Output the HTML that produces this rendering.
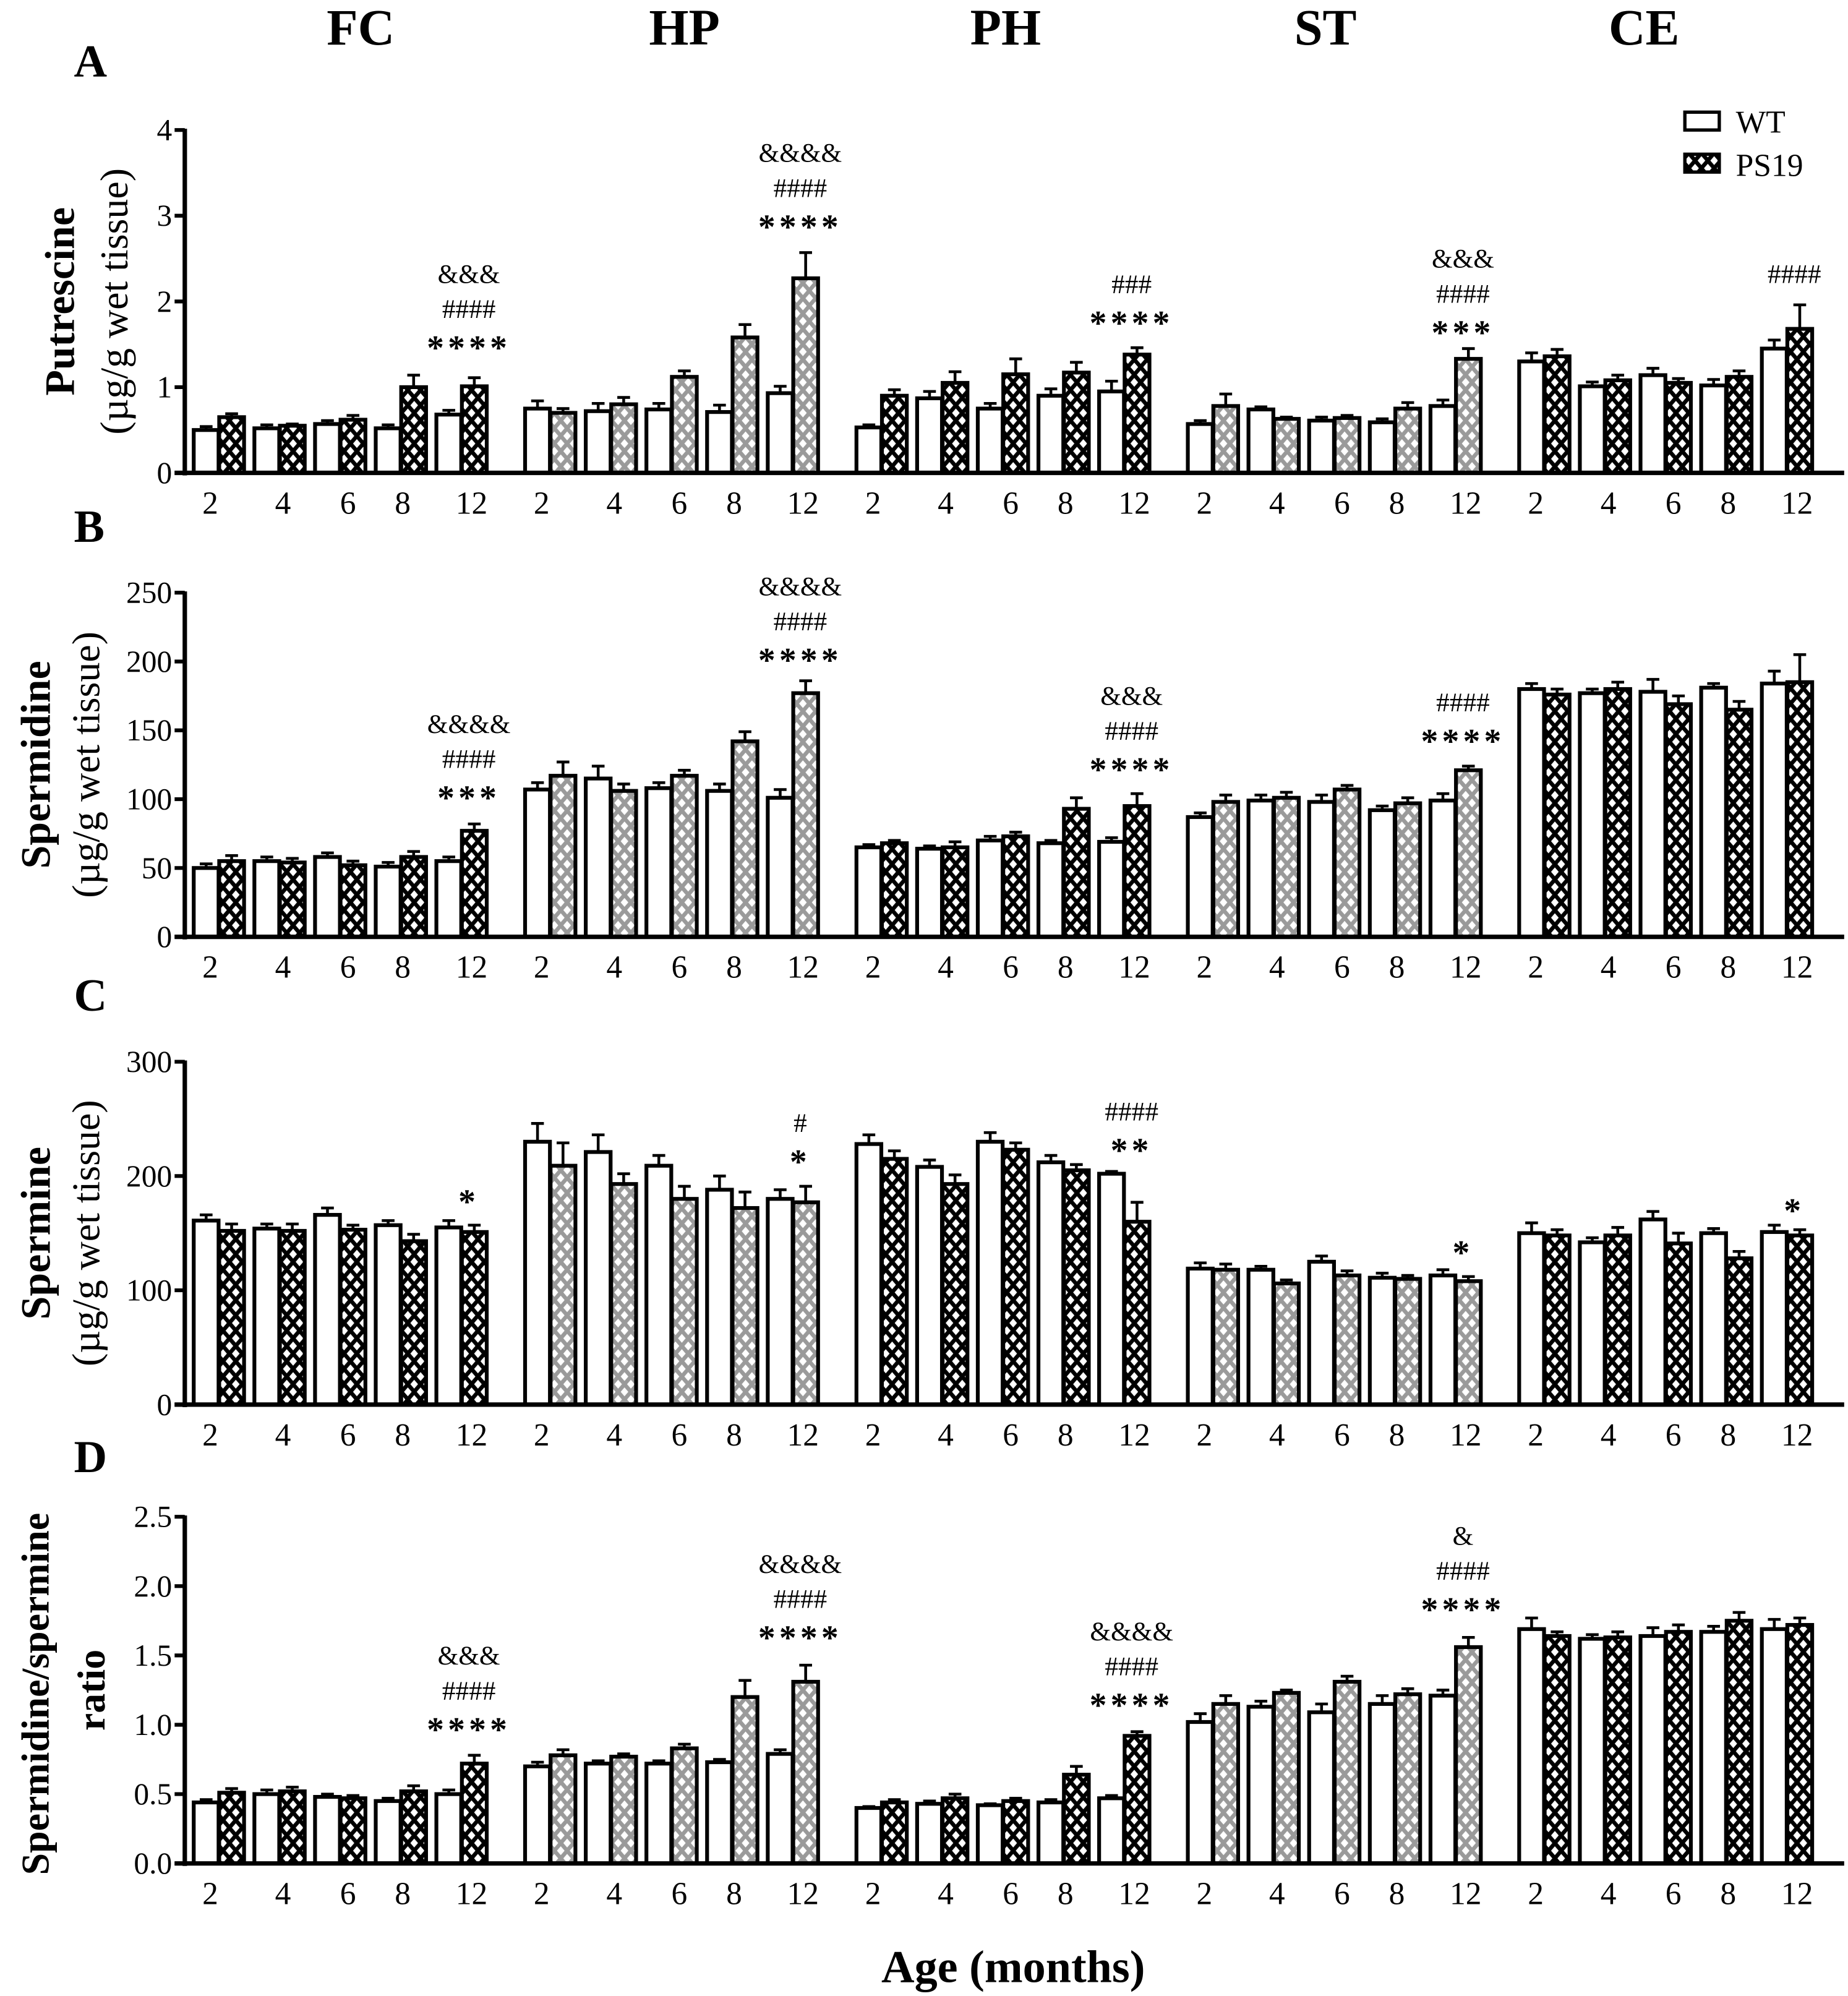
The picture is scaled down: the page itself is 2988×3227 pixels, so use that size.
<!DOCTYPE html>
<html><head><meta charset="utf-8"><style>
html,body{margin:0;padding:0;background:#fff}
svg{display:block}
text{font-family:"Liberation Serif",serif;fill:#000}
</style></head><body>
<svg id="fig" width="2988" height="3227" viewBox="0 0 1450 1566" preserveAspectRatio="none" xmlns="http://www.w3.org/2000/svg">
<defs>
<pattern id="pb" width="10" height="12" patternUnits="userSpaceOnUse"><rect width="10" height="12" fill="#000"/><path d="M5 2.5L8 6L5 9.5L2 6Z M0 -3.5L3 0L0 3.5L-3 0Z M10 -3.5L13 0L10 3.5L7 0Z M0 8.5L3 12L0 15.5L-3 12Z M10 8.5L13 12L10 15.5L7 12Z" fill="#fff"/></pattern>
<pattern id="pg" width="10" height="12" patternUnits="userSpaceOnUse"><rect width="10" height="12" fill="#9a9a9a"/><path d="M5 2.5L8 6L5 9.5L2 6Z M0 -3.5L3 0L0 3.5L-3 0Z M10 -3.5L13 0L10 3.5L7 0Z M0 8.5L3 12L0 15.5L-3 12Z M10 8.5L13 12L10 15.5L7 12Z" fill="#fff"/></pattern>
</defs>
<g id="root"></g>
</svg>
<script>
const regions = ["FC","HP","PH","ST","CE"];
const ages = ["2","4","6","8","12"];
// Panel A Putrescine
const putWT = [[0.5,0.52,0.57,0.52,0.68],[0.75,0.72,0.74,0.71,0.93],[0.53,0.87,0.75,0.90,0.95],[0.57,0.74,0.61,0.59,0.78],[1.30,1.01,1.14,1.02,1.45]];
const putWTerr = [[0.04,0.04,0.04,0.04,0.05],[0.09,0.09,0.07,0.08,0.08],[0.03,0.08,0.06,0.08,0.12],[0.04,0.03,0.04,0.04,0.07],[0.1,0.05,0.08,0.07,0.1]];
const putPS = [[0.65,0.55,0.62,1.0,1.01],[0.70,0.80,1.12,1.58,2.27],[0.90,1.05,1.15,1.17,1.38],[0.78,0.63,0.64,0.75,1.33],[1.36,1.08,1.05,1.12,1.68]];
const putPSerr = [[0.04,0.02,0.05,0.14,0.1],[0.05,0.08,0.07,0.15,0.3],[0.07,0.13,0.18,0.12,0.08],[0.14,0.02,0.03,0.07,0.12],[0.08,0.06,0.05,0.07,0.28]];
// Panel B Spermidine
const spdWT = [[50,55,58,51,55],[107,115,108,106,101],[65,64,70,68,69],[87,99,98,92,99],[180,177,178,181,184]];
const spdWTerr = [[3,3,3,3,3],[5,9,4,5,6],[2,2,3,2,3],[3,4,5,3,5],[4,3,9,3,9]];
const spdPS = [[55,54,52,58,77],[117,106,117,142,177],[68,65,73,93,95],[98,101,107,97,121],[176,180,169,165,185]];
const spdPSerr = [[4,3,3,4,5],[10,5,4,7,9],[2,4,3,8,9],[5,4,3,4,3],[4,5,6,6,20]];
// Panel C Spermine
const spmWT = [[161,154,166,157,155],[230,221,209,188,180],[228,208,230,212,202],[119,118,125,111,113],[150,142,162,150,151]];
const spmWTerr = [[5,4,6,4,6],[16,15,9,12,8],[8,6,8,6,2],[5,3,5,4,5],[9,4,7,4,6]];
const spmPS = [[152,152,153,143,151],[209,193,180,172,177],[215,193,223,205,160],[118,106,113,110,108],[148,148,141,128,148]];
const spmPSerr = [[6,6,4,6,6],[20,9,11,14,14],[7,8,6,5,17],[5,3,4,3,4],[5,7,9,6,5]];
// Panel D ratio
const ratWT = [[0.44,0.50,0.48,0.45,0.50],[0.70,0.72,0.72,0.73,0.79],[0.40,0.43,0.42,0.44,0.47],[1.02,1.13,1.09,1.15,1.21],[1.69,1.62,1.64,1.67,1.69]];
const ratWTerr = [[0.02,0.03,0.02,0.02,0.03],[0.03,0.02,0.02,0.02,0.03],[0.01,0.02,0.01,0.02,0.02],[0.06,0.04,0.06,0.06,0.04],[0.08,0.03,0.06,0.04,0.07]];
const ratPS = [[0.51,0.52,0.47,0.52,0.72],[0.78,0.77,0.83,1.20,1.31],[0.44,0.47,0.45,0.64,0.92],[1.15,1.23,1.31,1.22,1.56],[1.64,1.63,1.67,1.75,1.72]];
const ratPSerr = [[0.03,0.03,0.02,0.04,0.06],[0.04,0.02,0.03,0.12,0.12],[0.02,0.03,0.02,0.06,0.03],[0.06,0.02,0.04,0.04,0.07],[0.03,0.04,0.05,0.06,0.05]];
const ticksA = ["0","1","2","3","4"];
const ticksB = ["0","50","100","150","200","250"];
const ticksC = ["0","100","200","300"];
const ticksD = ["0.0","0.5","1.0","1.5","2.0","2.5"];
const grayRegion = [false,true,false,true,false];
// annotations: [panelIndex, regionIndex, lines]
const annots = [
 [0,0,["&&&","####","****"]],[0,1,["&&&&","####","****"]],[0,2,["###","****"]],[0,3,["&&&","####","***"]],[0,4,["####"]],
 [1,0,["&&&&","####","***"]],[1,1,["&&&&","####","****"]],[1,2,["&&&","####","****"]],[1,3,["####","****"]],
 [2,0,["*"]],[2,1,["#","*"]],[2,2,["####","**"]],[2,3,["*"]],[2,4,["*"]],
 [3,0,["&&&","####","****"]],[3,1,["&&&&","####","****"]],[3,2,["&&&&","####","****"]],[3,3,["&","####","****"]]
];
const annotTopY = [[215,120,223,203,215],[568,460,546,551,0],[940,881,872,980,947],[1299,1227,1280,1205,0]];

const NS="http://www.w3.org/2000/svg";
const root=document.getElementById('root');
function mk(tag,attrs,parent){const e=document.createElementNS(NS,tag);for(const k in attrs)e.setAttribute(k,attrs[k]);(parent||root).appendChild(e);return e;}
function txt(s,attrs,parent){const e=mk('text',attrs,parent);e.textContent=s;return e;}

const panels=[
 {letter:"A",wt:putWT,wte:putWTerr,ps:putPS,pse:putPSerr,ticks:ticksA,max:4,y0:371,yTop:102,t1:"Putrescine",t2:"(µg/g wet tissue)",letterY:60,tx:58,ux:100},
 {letter:"B",wt:spdWT,wte:spdWTerr,ps:spdPS,pse:spdPSerr,ticks:ticksB,max:250,y0:735,yTop:465,t1:"Spermidine",t2:"(µg/g wet tissue)",letterY:425,tx:39,ux:78},
 {letter:"C",wt:spmWT,wte:spmWTerr,ps:spmPS,pse:spmPSerr,ticks:ticksC,max:300,y0:1102,yTop:833,t1:"Spermine",t2:"(µg/g wet tissue)",letterY:793,tx:39,ux:78},
 {letter:"D",wt:ratWT,wte:ratWTerr,ps:ratPS,pse:ratPSerr,ticks:ticksD,max:2.5,y0:1462,yTop:1190,t1:"Spermidine/spermine",t2:"ratio",letterY:1155,tx:38,ux:82}
];
const AX=145, XEND=1447, BW=19.5;
const labelOff=[13,70,121,164,218];
function pairX(r,i){return 152+r*260+i*47.6;}

const titleX=[283,537,789,1040,1290];
regions.forEach((r,i)=>{
 const t=txt(r,{x:titleX[i],y:35,'font-size':40,'font-weight':'bold','text-anchor':'middle'});
 
 
});

panels.forEach((p,pi)=>{
 const g=mk('g',{});
 
 
 const ys=v=>p.y0-(v/p.max)*(p.y0-p.yTop);
 const L=txt(p.letter,{x:58,y:p.letterY,'font-size':36,'font-weight':'bold'},g);
 
 
 const cy=(p.y0+p.yTop)/2;
 if(pi<3){
  const a=txt(p.t1,{x:0,y:0,'font-size':33,'font-weight':'bold','text-anchor':'middle',transform:`translate(${p.tx},${cy}) rotate(-90)`},g);
  
  
  const b=txt(p.t2,{x:0,y:0,'font-size':31,'text-anchor':'middle',transform:`translate(${p.ux},${cy}) rotate(-90)`},g);
  
  
 } else {
  const a=txt(p.t1,{x:0,y:0,'font-size':31,'font-weight':'bold','text-anchor':'middle',transform:`translate(${p.tx},${cy+3}) rotate(-90)`},g);
  
  
  const b=txt(p.t2,{x:0,y:0,'font-size':31,'font-weight':'bold','text-anchor':'middle',transform:`translate(${p.ux},${cy}) rotate(-90)`},g);
  
  
 }
 p.ticks.forEach(t=>{
  const y=ys(parseFloat(t));
  const l=mk('line',{x1:AX-8,x2:AX,y1:y,y2:y,stroke:'#000','stroke-width':3},g);
  
  
  const tt=txt(t,{x:AX-10,y:y+8,'font-size':24,'text-anchor':'end'},g);
  
  
 });
 regions.forEach((r,ri)=>{
  ages.forEach((a,ai)=>{
   const x=pairX(ri,ai);
   const draw=(v,e,xx,fill,name)=>{
    const yt=ys(v), ye=ys(v+e);
    const ln=mk('line',{x1:xx+BW/2,x2:xx+BW/2,y1:yt,y2:ye,stroke:'#000','stroke-width':2.2},g);
    
    
    const cp=mk('line',{x1:xx+BW/2-5,x2:xx+BW/2+5,y1:ye,y2:ye,stroke:'#000','stroke-width':2.2},g);
    
    
    const rc=mk('rect',{x:xx,y:yt,width:BW,height:p.y0-yt,fill:fill,stroke:'#000','stroke-width':3},g);
    
    
   };
   draw(p.wt[ri][ai],p.wte[ri][ai],x,'#fff','bar-wt-'+r.toLowerCase()+'-'+a);
   draw(p.ps[ri][ai],p.pse[ri][ai],x+20,grayRegion[ri]?'url(#pg)':'url(#pb)','bar-ps19-'+r.toLowerCase()+'-'+a);
   const lb=txt(a,{x:152+ri*260+labelOff[ai],y:p.y0+32,'font-size':25,'text-anchor':'middle'},g);
   
   
  });
 });
 const ya=mk('line',{x1:AX,x2:AX,y1:p.yTop-1,y2:p.y0+2,stroke:'#000','stroke-width':3.5},g);
 
 
 const xa=mk('line',{x1:AX-8,x2:XEND,y1:p.y0,y2:p.y0,stroke:'#000','stroke-width':3.5},g);
 
 
});

annots.forEach(([pi,ri,lines])=>{
 const x=pairX(ri,4)+BW+6;
 let y=annotTopY[pi][ri];
 lines.forEach((s,k)=>{
  const star=s[0]==='*';
  const t=txt(s,{x:x,y:y+(star?12:7),'font-size':star?27:21,'font-weight':star?'bold':'normal','text-anchor':'middle','letter-spacing':star?3:0});
  
  
  y+=star?30:27.5;
 });
});

const lg=mk('g',{});


const l1=mk('rect',{x:1322,y:88,width:27,height:14,fill:'#fff',stroke:'#000','stroke-width':2.6},lg);


const l1t=txt('WT',{x:1362,y:104,'font-size':25},lg);


const l2=mk('rect',{x:1322,y:121,width:27,height:14,fill:'url(#pb)',stroke:'#000','stroke-width':2.6},lg);


const l2t=txt('PS19',{x:1362,y:138,'font-size':25},lg);



const xt=txt('Age (months)',{x:795,y:1555,'font-size':36,'font-weight':'bold','text-anchor':'middle'});


</script>
</body></html>
